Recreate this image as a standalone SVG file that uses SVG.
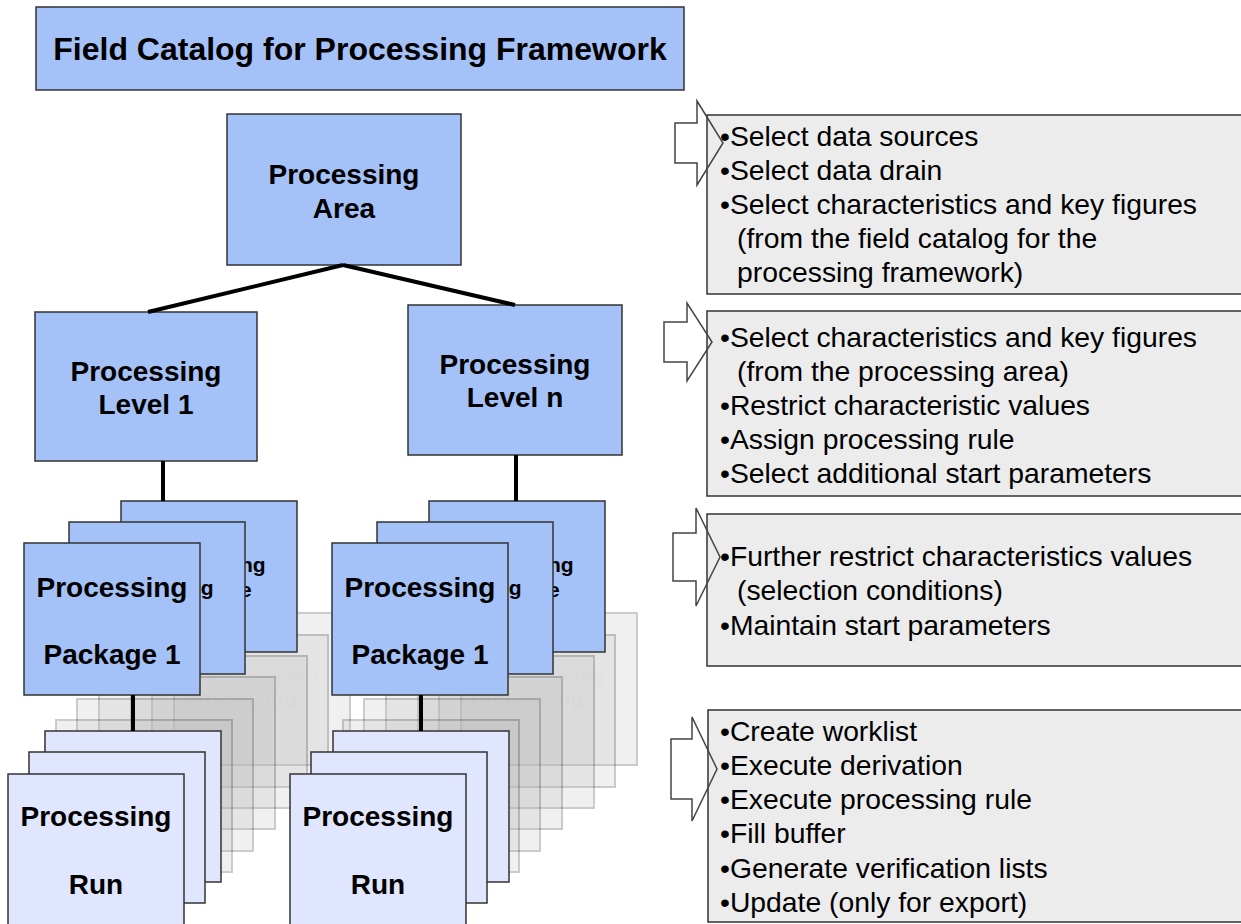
<svg xmlns="http://www.w3.org/2000/svg" width="1241" height="924" viewBox="0 0 1241 924">
<defs>
<style>
.blue{fill:#a4c2f7;stroke:#333;stroke-width:1.5}
.run{fill:#e0e6fd;stroke:#333;stroke-width:1.5}
.panel{fill:#ececec;stroke:#333;stroke-width:1.5}
.ghost{opacity:0.2}
.ghost rect{fill:#b8b8b8;stroke:#000;stroke-width:2}
.ghost text{fill:#aaa}
.b28{font-family:"Liberation Sans",Arial,sans-serif;font-weight:bold;font-size:28px;fill:#000;text-anchor:middle}
.b21{font-family:"Liberation Sans",Arial,sans-serif;font-weight:bold;font-size:21px;fill:#000;text-anchor:middle}
.t{font-family:"Liberation Sans",Arial,sans-serif;font-size:28.3px;fill:#000}
.arrow{fill:none;stroke:#444;stroke-width:1.5;stroke-linejoin:miter}
.conn{stroke:#000;stroke-width:4;fill:none}
</style>
</defs>
<rect width="1241" height="924" fill="#fff"/>

<g id="title">
<rect class="blue" x="36" y="7" width="648" height="83"/>
<text class="b28" x="360" y="60" style="font-size:32px">Field Catalog for Processing Framework</text>
</g>

<g id="processing-area">
<rect class="blue" x="227" y="114" width="234" height="151"/>
<text class="b28" x="344" y="184">Processing</text>
<text class="b28" x="344" y="218">Area</text>
</g>

<g id="processing-level-1">
<rect class="blue" x="35" y="312" width="222" height="149"/>
<text class="b28" x="146" y="381">Processing</text>
<text class="b28" x="146" y="414">Level 1</text>
</g>

<g id="processing-level-n">
<rect class="blue" x="408" y="305" width="214" height="150"/>
<text class="b28" x="515" y="374">Processing</text>
<text class="b28" x="515" y="407">Level n</text>
</g>

<g id="ghost-packages">
<g class="ghost"><rect x="174" y="613" width="176" height="152"/><text class="b21" x="262" y="683">Processing</text></g>
<g class="ghost"><rect x="152" y="635" width="176" height="152"/><text class="b21" x="240" y="706">Processing</text></g>
<g class="ghost"><rect x="131" y="656" width="176" height="152"/></g>
<g class="ghost"><rect x="99" y="677" width="176" height="152"/></g>
<g class="ghost"><rect x="77" y="699" width="176" height="152"/></g>
<g class="ghost"><rect x="56" y="720" width="176" height="152"/></g>
<g class="ghost"><rect x="461" y="613" width="176" height="152"/><text class="b21" x="549" y="683">Processing</text></g>
<g class="ghost"><rect x="439" y="635" width="176" height="152"/><text class="b21" x="527" y="706">Processing</text></g>
<g class="ghost"><rect x="418" y="656" width="176" height="152"/></g>
<g class="ghost"><rect x="386" y="677" width="176" height="152"/></g>
<g class="ghost"><rect x="364" y="699" width="176" height="152"/></g>
<g class="ghost"><rect x="343" y="720" width="176" height="152"/></g>
</g>

<g id="package-stack-left">
<rect class="blue" x="121" y="501" width="176" height="151"/>
<text class="b21" x="209" y="572">Processing</text>
<text class="b21" x="209" y="597">Package</text>
<rect class="blue" x="69" y="522" width="176" height="152"/>
<text class="b21" x="157" y="595">Processing</text>
</g>
<g id="processing-package-1-left">
<rect class="blue" x="24" y="543" width="176" height="152"/>
<text class="b28" x="112" y="597">Processing</text>
<text class="b28" x="112" y="664">Package 1</text>
</g>

<g id="package-stack-right">
<rect class="blue" x="429" y="501" width="176" height="151"/>
<text class="b21" x="517" y="572">Processing</text>
<text class="b21" x="517" y="597">Package</text>
<rect class="blue" x="377" y="522" width="176" height="152"/>
<text class="b21" x="465" y="595">Processing</text>
</g>
<g id="processing-package-1-right">
<rect class="blue" x="332" y="543" width="176" height="152"/>
<text class="b28" x="420" y="597">Processing</text>
<text class="b28" x="420" y="664">Package 1</text>
</g>

<g id="run-stack-left">
<rect class="run" x="45" y="731" width="176" height="151"/>
<rect class="run" x="29" y="752" width="176" height="151"/>
</g>
<g id="processing-run-left">
<rect class="run" x="8" y="774" width="176" height="160"/>
<text class="b28" x="96" y="826">Processing</text>
<text class="b28" x="96" y="894">Run</text>
</g>

<g id="run-stack-right">
<rect class="run" x="333" y="731" width="176" height="151"/>
<rect class="run" x="311" y="752" width="176" height="151"/>
</g>
<g id="processing-run-right">
<rect class="run" x="290" y="774" width="176" height="160"/>
<text class="b28" x="378" y="826">Processing</text>
<text class="b28" x="378" y="894">Run</text>
</g>

<g id="connectors">
<line class="conn" x1="343" y1="265" x2="148" y2="312"/>
<line class="conn" x1="343" y1="265" x2="515" y2="305"/>
<line class="conn" x1="163" y1="461" x2="163" y2="501"/>
<line class="conn" x1="516" y1="455" x2="516" y2="501"/>
<line class="conn" x1="133" y1="695" x2="133" y2="731"/>
<line class="conn" x1="421" y1="695" x2="421" y2="731"/>
</g>

<g id="panel-area">
<rect class="panel" x="707" y="115" width="540" height="179"/>
<text class="t" x="720" y="146">•Select data sources</text>
<text class="t" x="720" y="180">•Select data drain</text>
<text class="t" x="720" y="214">•Select characteristics and key figures</text>
<text class="t" x="737" y="248">(from the field catalog for the</text>
<text class="t" x="737" y="282">processing framework)</text>
</g>
<g id="panel-level">
<rect class="panel" x="707" y="311" width="540" height="185"/>
<text class="t" x="720" y="347">•Select characteristics and key figures</text>
<text class="t" x="737" y="381">(from the processing area)</text>
<text class="t" x="720" y="415">•Restrict characteristic values</text>
<text class="t" x="720" y="449">•Assign processing rule</text>
<text class="t" x="720" y="483">•Select additional start parameters</text>
</g>
<g id="panel-package">
<rect class="panel" x="707" y="514" width="540" height="152"/>
<text class="t" x="720" y="566">•Further restrict characteristics values</text>
<text class="t" x="737" y="600">(selection conditions)</text>
<text class="t" x="720" y="635">•Maintain start parameters</text>
</g>
<g id="panel-run">
<rect class="panel" x="708" y="710" width="540" height="212"/>
<text class="t" x="720" y="741">•Create worklist</text>
<text class="t" x="720" y="775">•Execute derivation</text>
<text class="t" x="720" y="809">•Execute processing rule</text>
<text class="t" x="720" y="843">•Fill buffer</text>
<text class="t" x="720" y="878">•Generate verification lists</text>
<text class="t" x="720" y="912">•Update (only for export)</text>
</g>

<g id="arrows">
<polygon class="arrow" points="675,123 697,123 697,101 723,143 697,185 697,163 675,163"/>
<polygon class="arrow" points="664,322 687,322 687,303 712,342 687,381 687,362 664,362"/>
<polygon class="arrow" points="673,533 696,533 696,508 720,557 696,606 696,581 673,581"/>
<polygon class="arrow" points="671,739 692,739 692,717 717,769 692,821 692,799 671,799"/>
</g>
</svg>
